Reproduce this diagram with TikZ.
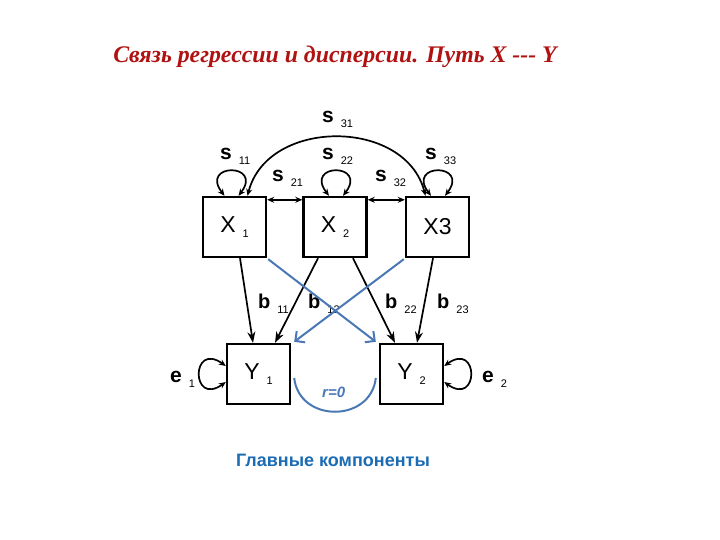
\documentclass[tikz,border=0pt]{standalone}
\usepackage{fontspec}
\setmainfont{Liberation Sans}
\newfontfamily\titlefont{Liberation Serif}
\usetikzlibrary{arrows.meta}

\definecolor{titlered}{RGB}{176,18,18}
\definecolor{pcblue}{RGB}{74,120,181}
\definecolor{capblue}{RGB}{28,108,180}

% letter with a lowered index
\newcommand{\coef}[3]{{\fontsize{#1}{#1}\selectfont\bfseries #2}\hspace{7pt}\raisebox{-5pt}{\fontsize{11}{11}\selectfont #3}}
\newcommand{\boxlab}[2]{{\fontsize{23}{23}\selectfont #1}\hspace{7pt}\raisebox{-5pt}{\fontsize{11}{11}\selectfont #2}}

\begin{document}
\begin{tikzpicture}[x=1pt,y=1pt,
  every node/.style={inner sep=0pt},
  var/.style={draw,line width=2.4pt,minimum width=63pt,minimum height=60pt},
  lab/.style={anchor=base west},
  path/.style={line width=1.7pt,-{Stealth[length=11pt,width=8pt]}},
  dbl/.style={line width=1.7pt,{Stealth[length=7pt,width=6pt]}-{Stealth[length=7pt,width=6pt]}},
  pc/.style={pcblue,line width=2pt,-{Straight Barb[length=7pt,width=14pt]}}]
\useasboundingbox (0,0) rectangle (720,-540);

\node[anchor=base,text=titlered] (title) at (335,-63)
  {\titlefont\bfseries\itshape\fontsize{23.8}{24}\selectfont Связь регрессии и дисперсии. Путь X --- Y};

\node[var] (X1) at (234.5,-227) {\boxlab{X}{1}};
\node[var] (X2) at (335,-227) {\boxlab{X}{2}};
\node[var] (X3) at (437.5,-227) {\fontsize{23}{23}\selectfont X3};
\node[var] (Y1) at (258.5,-374) {\boxlab{Y}{1}};
\node[var] (Y2) at (411.5,-374) {\boxlab{Y}{2}};

% variances and covariances
\draw[dbl] ([xshift=-10pt]X1.north) .. controls +(-25,33) and +(25,33) .. ([xshift=4pt]X1.north);
\draw[dbl] ([xshift=-6pt]X2.north) .. controls +(-25,33) and +(25,33) .. ([xshift=8pt]X2.north);
\draw[dbl] ([xshift=-6.5pt]X3.north) .. controls +(-25,33) and +(25,33) .. ([xshift=7.5pt]X3.north);
\draw[dbl] ([yshift=-4pt]X1.north east) -- ([yshift=-4pt]X2.north west);
\draw[dbl] ([yshift=-4pt]X2.north east) -- ([yshift=-4pt]X3.north west);
\draw[dbl] ([xshift=13pt]X1.north) .. controls +(20,78) and +(-20,78) .. ([xshift=-12pt]X3.north);
\draw[dbl] ([yshift=8pt]Y1.west) .. controls +(-35,25) and +(-35,-25) .. ([yshift=-8pt]Y1.west);
\draw[dbl] ([yshift=8pt]Y2.east) .. controls +(35,25) and +(35,-25) .. ([yshift=-8pt]Y2.east);

\node[lab] (s11) at (220,-160) {\coef{21}{s}{11}};
\node[lab] (s22) at (322,-160) {\coef{21}{s}{22}};
\node[lab] (s33) at (425,-160) {\coef{21}{s}{33}};
\node[lab] (s21) at (272,-182) {\coef{21}{s}{21}};
\node[lab] (s32) at (375,-182) {\coef{21}{s}{32}};
\node[lab] (s31) at (322,-123) {\coef{21}{s}{31}};
\node[lab] (e1) at (170,-382) {\coef{21}{e}{1}};
\node[lab] (e2) at (482,-382) {\coef{21}{e}{2}};

% regressions
\draw[path] ([xshift=5.5pt]X1.south) -- ([xshift=-5.5pt]Y1.north);
\draw[path] ([xshift=-17pt]X2.south) -- ([xshift=16.5pt]Y1.north);
\draw[path] ([xshift=18pt]X2.south) -- ([xshift=-16.5pt]Y2.north);
\draw[path] ([xshift=-4.5pt]X3.south) -- ([xshift=5.5pt]Y2.north);

\node[lab] (b11) at (258,-308) {\coef{20}{b}{11}};
\node[lab] (b12) at (308,-308) {\coef{20}{b}{12}};
\node[lab] (b22) at (385,-308) {\coef{20}{b}{22}};
\node[lab] (b23) at (437,-308) {\coef{20}{b}{23}};

% principal components
\draw[pc] ([xshift=1pt,yshift=-1pt]X1.south east) -- ([xshift=-3pt,yshift=1pt]Y2.north west);
\draw[pc] ([xshift=-1pt,yshift=-1pt]X3.south west) -- ([xshift=3pt,yshift=1pt]Y1.north east);
\draw[pcblue,line width=2pt] ([xshift=3pt,yshift=-4pt]Y1.east)
  .. controls +(5,-45) and +(-5,-45) .. ([xshift=-3pt,yshift=-4pt]Y2.west);
\node[lab,text=pcblue] (r) at (322,-397) {\bfseries\itshape\fontsize{15}{15}\selectfont r=0};

\node[anchor=base,text=capblue] (caption) at (333,-466)
  {\bfseries\fontsize{18}{18}\selectfont Главные компоненты};
\end{tikzpicture}
\end{document}
